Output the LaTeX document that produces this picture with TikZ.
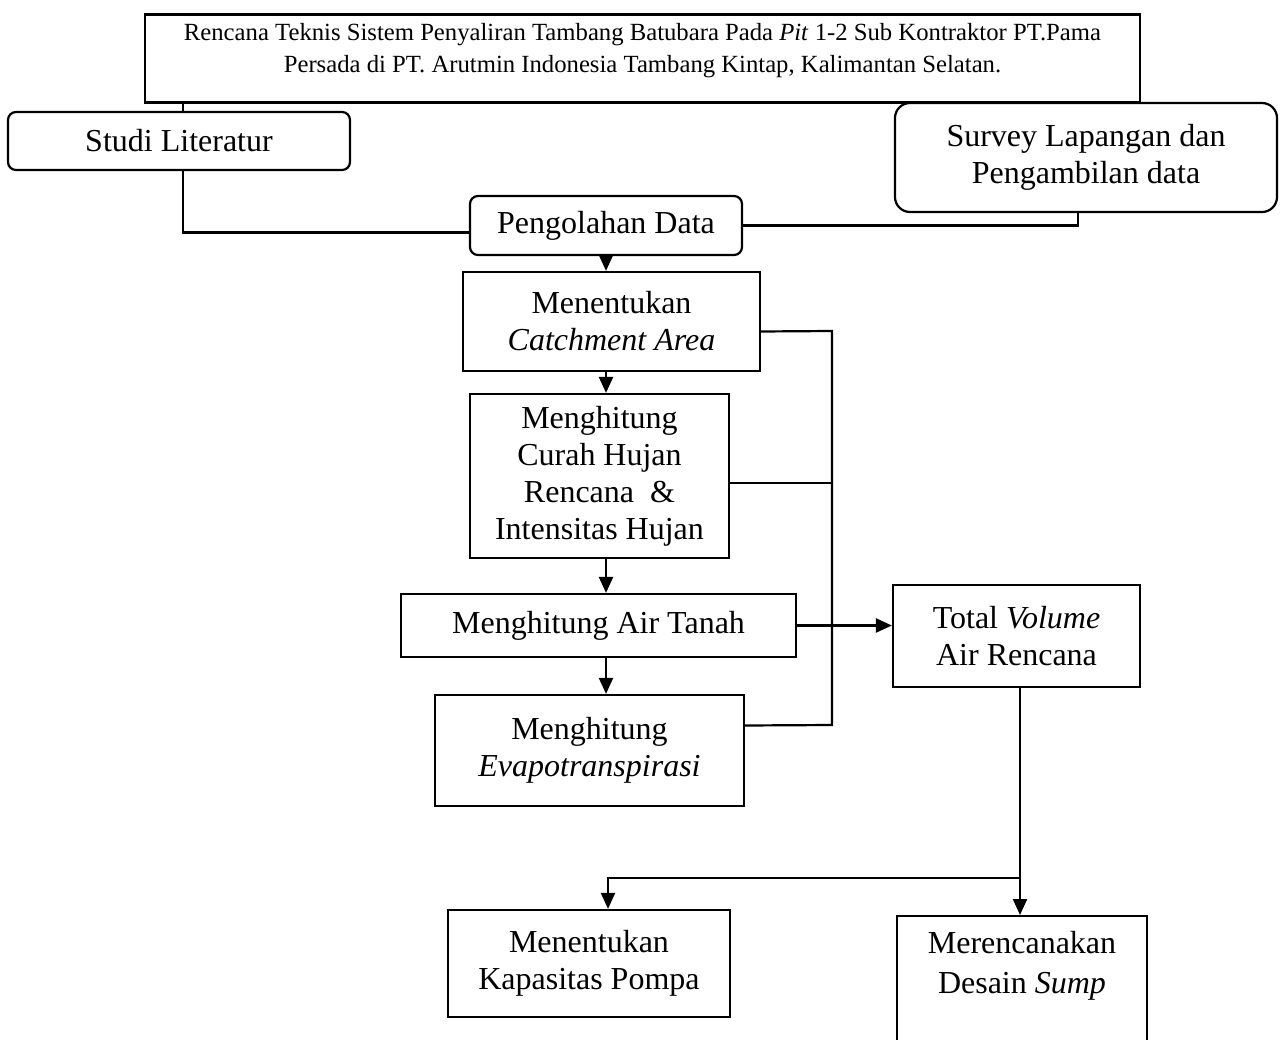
\documentclass[tikz,border=0pt]{standalone}
\usepackage{fontspec}
\setmainfont{Liberation Serif}
\usetikzlibrary{arrows.meta,positioning}

\begin{document}
\begin{tikzpicture}[x=1pt,y=-1pt,>={Triangle[length=16pt,width=14pt]},
  box/.style={draw,line width=2.2pt,align=center,inner sep=0pt,
    font=\fontsize{32}{37}\selectfont},
  rbox/.style={box,rounded corners=8pt},
  line/.style={line width=2.2pt}]
  \useasboundingbox (0,0) rectangle (1282,1040);
  \clip (0,0) rectangle (1282,1040);

  % title
  \node[box,minimum width=995pt,minimum height=87pt,inner ysep=8.5pt,text depth=22pt,
    font=\fontsize{24.7}{32}\selectfont] (judul) at (642.5,58.5)
    {Rencana Teknis Sistem Penyaliran Tambang Batubara Pada \textit{Pit} 1-2 Sub Kontraktor PT.Pama\\
     Persada di PT. Arutmin Indonesia Tambang Kintap, Kalimantan Selatan.};

  % sources
  \node[rbox,minimum width=342pt,minimum height=58pt] (studi) at (179,141) {Studi Literatur};
  \node[rbox,rounded corners=15pt,minimum width=382pt,minimum height=109pt] (survey) at (1086,157.5)
    {Survey Lapangan dan\\ Pengambilan data};
  \node[rbox,minimum width=272pt,minimum height=59pt] (olah) at (606,225.5) {Pengolahan Data};

  % main column
  \node[box,minimum width=297pt,minimum height=99pt] (catch) at (611.5,321.5)
    {Menentukan\\ \textit{Catchment Area}};
  \node[box,minimum width=259pt,minimum height=164pt] (curah) at (599.5,476)
    {Menghitung\\ Curah Hujan\\ Rencana~~\&\\ Intensitas Hujan};
  \node[box,minimum width=395pt,minimum height=63pt] (airtanah) at (598.5,625.5) {Menghitung Air Tanah};
  \node[box,minimum width=309pt,minimum height=111pt] (evapo) at (589.5,750.5)
    {Menghitung\\ \textit{Evapotranspirasi}};

  % results
  \node[box,minimum width=247pt,minimum height=102pt] (total) at (1016.5,636)
    {Total \textit{Volume}\\ Air Rencana};
  \node[box,minimum width=282pt,minimum height=107pt] (pompa) at (589,963.5)
    {Menentukan\\ Kapasitas Pompa};
  \node[box,minimum width=250pt,anchor=north,inner ysep=15pt,text depth=110pt,
    font=\fontsize{32}{40}\selectfont] (sump) at (1022,915)
    {Merencanakan\\ Desain \textit{Sump}};

  % connectors on top
  \draw[line] ([xshift=4pt]studi.north) -- ([xshift=4pt]studi.north |- judul.south);
  \draw[line] ([xshift=-8pt]survey.north) -- ([xshift=-8pt]survey.north |- judul.south);
  \draw[line] ([xshift=4pt]studi.south) |- ([yshift=-7pt]olah.west);
  \draw[line] ([xshift=-8pt]survey.south) |- (olah.east);

  % column arrows
  \foreach \a/\b in {olah/catch,catch/curah,curah/airtanah,airtanah/evapo}
    \draw[line,->] (\a.south -| olah.center) -- (\b.north -| olah.center);

  % collecting line
  \coordinate (bus) at (832,331);
  \draw[line] ([yshift=-10pt]catch.east) -- (bus) -- (bus |- 0,725) -- ([yshift=25pt]evapo.east);
  \draw[line] ([yshift=-7pt]curah.east) -- ([yshift=-7pt]curah.east -| bus);
  \draw[line,->] (airtanah.east) -- (airtanah.east -| total.west);

  % outputs
  \coordinate (cabang) at (1020,878);
  \draw[line,->] (total.south -| cabang) -- (sump.north -| cabang);
  \draw[line,->] (cabang) -| ([xshift=19pt]pompa.north);
\end{tikzpicture}
\end{document}
